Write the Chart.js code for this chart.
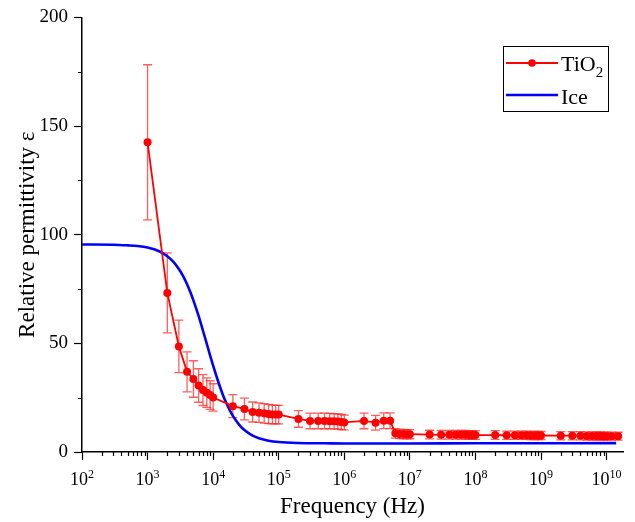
<!DOCTYPE html>
<html><head><meta charset="utf-8">
<script src="https://cdn.jsdelivr.net/npm/chart.js@4/dist/chart.umd.min.js"></script>
<style>html,body{margin:0;padding:0;background:#fff;}#wrap{width:635px;height:522px;position:relative;}</style>
</head><body><div id="wrap"><canvas id="c" width="635" height="522"></canvas></div>
<script>
// ---- Data ----
const tio2Freq = [1e3,2e3,3e3,4e3,5e3,6e3,7e3,8e3,9e3,1e4,
  2e4,3e4,4e4,5e4,6e4,7e4,8e4,9e4,1e5,
  2e5,3e5,4e5,5e5,6e5,7e5,8e5,9e5,1e6,
  2e6,3e6,4e6,5e6,6e6,7e6,8e6,9e6,1e7,
  2e7,3e7,4e7,5e7,6e7,7e7,8e7,9e7,1e8,
  2e8,3e8,4e8,5e8,6e8,7e8,8e8,9e8,1e9,
  2e9,3e9,4e9,5e9,6e9,7e9,8e9,9e9,1e10,1.2e10,1.5e10];
const tio2Eps = [142.5,73.2,48.6,36.9,33.6,30.6,28.5,27.3,26.2,25.1,
  21.1,19.8,18.4,18.1,17.8,17.5,17.3,17.2,17.2,
  15.2,14.3,14.3,14.3,14.2,14.1,14.0,13.8,13.6,
  14.3,13.5,14.4,14.4,8.6,8.3,8.3,8.2,8.2,
  8.0,7.9,7.9,7.9,7.9,7.9,7.8,7.8,7.8,
  7.8,7.7,7.7,7.7,7.7,7.6,7.6,7.6,7.6,
  7.5,7.5,7.5,7.4,7.4,7.4,7.4,7.3,7.3,7.3,7.3];
const tio2Err = [35.7,18.4,12.1,9.2,8.4,7.7,7.1,6.8,6.6,6.3,
  5.3,5.0,4.6,4.5,4.5,4.4,4.3,4.3,4.3,
  3.8,3.6,3.6,3.6,3.6,3.5,3.5,3.5,3.4,
  3.6,3.4,3.6,3.6,2.2,2.1,2.1,2.1,2.1,
  2.0,2.0,2.0,2.0,2.0,2.0,2.0,2.0,2.0,
  2.0,1.9,1.9,1.9,1.9,1.9,1.9,1.9,1.9,
  1.9,1.9,1.9,1.9,1.9,1.9,1.9,1.8,1.8,1.8,1.8];
const iceFreq = [100,300,500,700,1000,1500,2000,2500,3000,3500,4000,4500,5000,6000,7000,8000,9000,
  10000,12000,14000,16000,18000,20000,25000,30000,40000,50000,70000,1e5,2e5,5e5,1e6,1e7,1e8,1e9,1e10,1.4e10];
const iceEps = [95.5,95.4,95.1,94.8,94.1,92.4,90.1,87.4,84.2,80.8,77.2,73.5,69.8,62.6,55.8,49.75,44.4,
  39.7,32.2,26.5,22.3,19.1,16.6,12.5,10.1,7.5,6.3,5.2,4.6,4.15,4.0,3.9,3.9,4.0,4.0,4.1,4.1];
const xTickValues = [1e2,1e3,1e4,1e5,1e6,1e7,1e8,1e9,1e10];
const xTickBase = '10';
const xTickExponents = ['2','3','4','5','6','7','8','9','10'];
const yTickValues = [0,50,100,150,200];
const yMinorValues = [25,75,125,175];

const SERIF = "'Liberation Serif','Times New Roman',serif";

const tio2Points = tio2Freq.map((f,i)=>({x:f,y:tio2Eps[i]}));
const icePoints = iceFreq.map((f,i)=>({x:f,y:iceEps[i]}));

const errorBars = {
  id:'errorBars',
  beforeDatasetsDraw(chart){
    const {ctx, scales:{x,y}} = chart;
    ctx.save();
    ctx.strokeStyle = 'rgba(255,40,40,0.75)';
    ctx.lineWidth = 1.3;
    tio2Freq.forEach((f,i)=>{
      const px = x.getPixelForValue(f);
      const yt = y.getPixelForValue(tio2Eps[i]+tio2Err[i]);
      const yb = y.getPixelForValue(tio2Eps[i]-tio2Err[i]);
      ctx.beginPath();
      ctx.moveTo(px,yt); ctx.lineTo(px,yb);
      ctx.moveTo(px-4.5,yt); ctx.lineTo(px+4.5,yt);
      ctx.moveTo(px-4.5,yb); ctx.lineTo(px+4.5,yb);
      ctx.stroke();
    });
    ctx.restore();
  }
};

const axisExtras = {
  id:'axisExtras',
  afterDraw(chart){
    const {ctx, scales:{x,y}} = chart;
    ctx.save();
    ctx.strokeStyle='#000'; ctx.lineWidth=1.2;
    ctx.beginPath();
    for(let d=2; d<10; d++){
      for(let m=2;m<=9;m++){
        const v = m*Math.pow(10,d);
        if(v> x.max) continue;
        const px = Math.round(x.getPixelForValue(v))+0.5;
        ctx.moveTo(px,y.bottom); ctx.lineTo(px,y.bottom+4);
      }
    }
    yMinorValues.forEach(v=>{
      const py = Math.round(y.getPixelForValue(v))+0.5;
      ctx.moveTo(x.left,py); ctx.lineTo(x.left-4,py);
    });
    ctx.stroke();
    ctx.fillStyle='#000'; ctx.textBaseline='alphabetic'; ctx.textAlign='left';
    xTickValues.forEach((v,i)=>{
      const px = x.getPixelForValue(v);
      ctx.font = "18px "+SERIF;
      const wb = ctx.measureText(xTickBase).width;
      ctx.font = "12px "+SERIF;
      const we = ctx.measureText(xTickExponents[i]).width;
      const start = px - (wb+we)/2;
      ctx.font = "18px "+SERIF;
      ctx.fillText(xTickBase,start,485);
      ctx.font = "12px "+SERIF;
      ctx.fillText(xTickExponents[i],start+wb,478);
    });
    ctx.restore();
  }
};

const legendBox = {
  id:'legendBox',
  afterDraw(chart){
    const ctx = chart.ctx;
    ctx.save();
    ctx.strokeStyle='#000'; ctx.lineWidth=1;
    ctx.strokeRect(503.5,46.5,105,65);
    ctx.strokeStyle='#ff0000'; ctx.lineWidth=2;
    ctx.beginPath(); ctx.moveTo(506,63); ctx.lineTo(558,63); ctx.stroke();
    ctx.fillStyle='#ff0000';
    ctx.beginPath(); ctx.arc(532,63,3.8,0,Math.PI*2); ctx.fill();
    ctx.strokeStyle='#0000ff'; ctx.lineWidth=2.5;
    ctx.beginPath(); ctx.moveTo(506,95); ctx.lineTo(558,95); ctx.stroke();
    ctx.fillStyle='#000';
    ctx.textBaseline='alphabetic'; ctx.textAlign='left';
    ctx.font = "22px "+SERIF;
    ctx.fillText('TiO',561,71);
    const w = ctx.measureText('TiO').width;
    ctx.font = "15px "+SERIF;
    ctx.fillText('2',561+w,77);
    ctx.font = "22px "+SERIF;
    ctx.fillText(chart.data.datasets[1].label,561,104);
    ctx.restore();
  }
};

new Chart(document.getElementById('c'),{
  type:'line',
  data:{datasets:[
    {label:'TiO2',data:tio2Points,borderColor:'#ff0000',backgroundColor:'#ff0000',borderWidth:1.8,
     pointRadius:4,pointHoverRadius:4,pointBorderWidth:0,pointBackgroundColor:'#ff0000',tension:0,order:1},
    {label:'Ice',data:icePoints,borderColor:'#0000ff',borderWidth:2.6,pointRadius:0,
     cubicInterpolationMode:'monotone',order:2}
  ]},
  options:{
    responsive:false,animation:false,devicePixelRatio:1,
    layout:{padding:{top:17,right:12,left:0,bottom:0}},
    plugins:{legend:{display:false},tooltip:{enabled:false}},
    scales:{
      x:{type:'logarithmic',min:100,max:1.78e10,position:'bottom',
        afterBuildTicks(s){ s.ticks = xTickValues.map(v=>({value:v,major:true})); },
        afterFit(s){ s.height = 70; },
        ticks:{display:false,autoSkip:false,maxRotation:0},
        grid:{drawOnChartArea:false,drawTicks:true,tickLength:8,color:'#000',tickWidth:1.2},
        border:{display:true,color:'#000',width:1.5},
        title:{display:true,text:'Frequency (Hz)',color:'#000',font:{family:SERIF,size:23},padding:{top:0,bottom:1}}
      },
      y:{type:'linear',min:0,max:200,
        afterBuildTicks(s){ s.ticks = yTickValues.map(v=>({value:v})); },
        afterFit(s){ s.width = 82; },
        ticks:{color:'#000',font:{family:SERIF,size:19},padding:6},
        grid:{drawOnChartArea:false,drawTicks:true,tickLength:8,color:'#000',tickWidth:1.2},
        border:{display:true,color:'#000',width:1.5},
        title:{display:true,text:'Relative permittivity \u03B5',color:'#000',font:{family:SERIF,size:23},padding:{top:14,bottom:0}}
      }
    }
  },
  plugins:[errorBars,axisExtras,legendBox]
});
</script></body></html>
